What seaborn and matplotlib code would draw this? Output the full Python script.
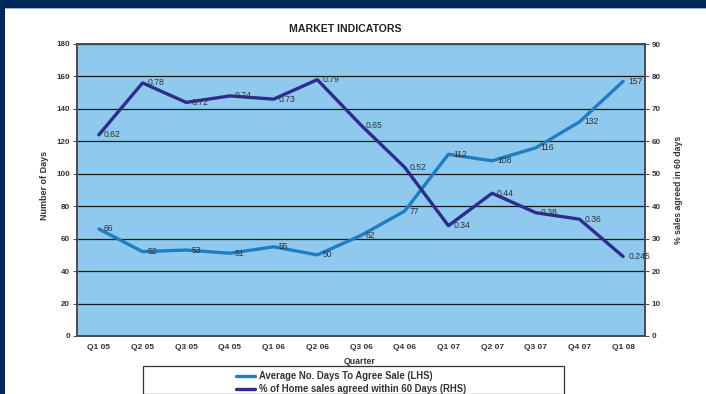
import matplotlib
matplotlib.use("Agg")
import matplotlib.pyplot as plt
from matplotlib.patches import Rectangle
from matplotlib.lines import Line2D
import seaborn as sns
import pandas as pd
import numpy as np

quarters = ["Q1 05", "Q2 05", "Q3 05", "Q4 05", "Q1 06", "Q2 06", "Q3 06",
            "Q4 06", "Q1 07", "Q2 07", "Q3 07", "Q4 07", "Q1 08"]
avg_days = [66, 52, 53, 51, 55, 50, 62, 77, 112, 108, 116, 132, 157]
pct_sales = [0.62, 0.78, 0.72, 0.74, 0.73, 0.79, 0.65, 0.52, 0.34, 0.44, 0.38, 0.36, 0.245]
pct_labels = ["0.62", "0.78", "0.72", "0.74", "0.73", "0.79", "0.65", "0.52",
              "0.34", "0.44", "0.38", "0.36", "0.245"]
left_ticks = [0, 20, 40, 60, 80, 100, 120, 140, 160, 180]
right_ticks = [0, 10, 20, 30, 40, 50, 60, 70, 80, 90]

days_name = "Average No. Days To Agree Sale (LHS)"
pct_name = "% of Home sales agreed within 60 Days (RHS)"

sns.set_theme(style="white")
plt.rcParams["font.family"] = ["Liberation Sans", "DejaVu Sans"]

W, H = 706, 394
fig = plt.figure(figsize=(W / 100, H / 100), dpi=100)
fig.patch.set_facecolor("white")

navy = "#00295B"
fig.patches.append(Rectangle((0, 1 - 8 / H), 1, 8 / H, transform=fig.transFigure,
                             facecolor=navy, edgecolor="none", zorder=0))
fig.patches.append(Rectangle((0, 0), 5 / W, 1, transform=fig.transFigure,
                             facecolor=navy, edgecolor="none", zorder=0))
fig.patches.append(Rectangle((5 / W, 1 - 9 / H), 1, 1 / H, transform=fig.transFigure,
                             facecolor="#9FB6D0", edgecolor="none", zorder=0))

x0, x1, yt, yb = 77, 645, 44, 336
ax = fig.add_axes([x0 / W, 1 - yb / H, (x1 - x0) / W, (yb - yt) / H])
ax.set_facecolor("#8FC9ED")

df = pd.DataFrame({"pos": np.arange(len(quarters)), "quarter": quarters,
                   "days": avg_days, "pct": [p * 100 for p in pct_sales]})

days_color = "#1F7DC4"
pct_color = "#2E2D8C"
txt_color = "#333333"
tick_fs = 5.8
lab_fs = 6.2

sns.lineplot(data=df, x="pos", y="days", ax=ax, color=days_color, linewidth=2.4, zorder=3)
ax.set_ylim(0, 180)
ax.set_xlim(-0.5, len(quarters) - 0.5)
ax.set_yticks(left_ticks)
ax.set_yticklabels([str(t) for t in left_ticks], fontsize=tick_fs, fontweight="bold", color=txt_color)
ax.set_xticks(df["pos"])
ax.set_xticklabels(quarters, fontsize=6.0, fontweight="bold", color=txt_color)
ax.set_xticks(np.arange(-0.5, len(quarters), 1.0), minor=True)
ax.tick_params(axis="x", which="major", length=0, pad=5.5)
ax.tick_params(axis="x", which="minor", length=3, width=0.8, color="#555555", direction="out")
ax.tick_params(axis="y", length=3, width=0.8, color="#555555", direction="out", pad=2, left=True)
ax.grid(axis="y", color="#1a1a1a", linewidth=0.9)
ax.grid(axis="x", visible=False)
ax.set_axisbelow(True)
ax.set_xlabel("Quarter", fontsize=6.3, fontweight="bold", color=txt_color)
ax.xaxis.set_label_coords((360 - x0) / (x1 - x0), -(356.5 - yb) / (yb - yt))
ax.set_ylabel("Number of Days", fontsize=6.5, fontweight="bold", color=txt_color)
ax.yaxis.set_label_coords(-(x0 - 49) / (x1 - x0), (yb - 185) / (yb - yt))
for s in ax.spines.values():
    s.set_color("#4a4a4a")
    s.set_linewidth(1.2)

for i, v in enumerate(avg_days):
    ax.annotate(str(v), xy=(i, v), xytext=(3.6, 0), textcoords="offset points",
                fontsize=lab_fs, color=txt_color, va="center", ha="left", zorder=5)

ax2 = ax.twinx()
sns.lineplot(data=df, x="pos", y="pct", ax=ax2, color=pct_color, linewidth=2.4, zorder=4)
ax2.set_ylim(0, 90)
ax2.set_yticks(right_ticks)
ax2.set_yticklabels([str(t) for t in right_ticks], fontsize=tick_fs, fontweight="bold", color=txt_color)
ax2.tick_params(axis="y", length=3, width=0.8, color="#555555", direction="out", pad=2, right=True)
ax2.set_ylabel("% sales agreed in 60 days", fontsize=6.3, fontweight="bold", color=txt_color)
ax2.yaxis.set_label_coords((674 - x0) / (x1 - x0), (yb - 190) / (yb - yt))
ax2.grid(False)
for s in ax2.spines.values():
    s.set_color("#4a4a4a")
    s.set_linewidth(1.2)
for i, (v, lab) in enumerate(zip(pct_sales, pct_labels)):
    ax2.annotate(lab, xy=(i, v * 100), xytext=(3.6, 0), textcoords="offset points",
                 fontsize=lab_fs, color=txt_color, va="center", ha="left", zorder=5)

fig.text(345 / W, 1 - 29 / H, "MARKET INDICATORS", fontsize=7.6, fontweight="bold",
         color="#222222", ha="center", va="center")

# legend
fig.patches.append(Rectangle((143 / W, 0), (564 - 143) / W, (H - 370) / H + 0.01,
                             transform=fig.transFigure, facecolor="white",
                             edgecolor="#333333", linewidth=0.9, zorder=1))
handles = [Line2D([], [], color=days_color, linewidth=2.4),
           Line2D([], [], color=pct_color, linewidth=2.4)]
fig.legend(handles, [days_name, pct_name], loc="upper left",
           bbox_to_anchor=(236 / W, 1 - 371 / H), frameon=False, borderpad=0,
           borderaxespad=0, handlelength=2.0, handletextpad=0.45, labelspacing=0.3,
           prop={"size": 6.85, "weight": "bold"}, labelcolor=txt_color)

fig.savefig("out.png", dpi=100, facecolor=fig.get_facecolor())
